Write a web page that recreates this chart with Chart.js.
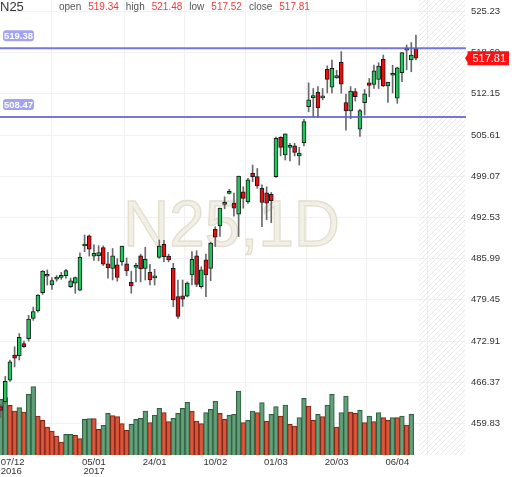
<!DOCTYPE html>
<html><head><meta charset="utf-8">
<script src="https://cdn.jsdelivr.net/npm/chart.js@4"></script>
<style>html,body{margin:0;padding:0;background:#fff}canvas{display:block}</style>
</head><body>
<canvas id="c" width="512" height="477"></canvas>
<script>
const symbol = "N25";
const interval = "1D";
const dates = ["05/12","06/12","07/12","08/12","09/12","12/12","13/12","14/12","15/12","16/12",
"19/12","20/12","21/12","22/12","23/12","28/12","29/12","30/12","03/01","04/01",
"05/01","06/01","09/01","10/01","11/01","12/01","13/01","16/01","17/01","18/01",
"19/01","20/01","23/01","24/01","25/01","26/01","27/01","30/01","31/01","01/02",
"02/02","03/02","06/02","07/02","08/02","09/02","10/02","13/02","14/02","15/02",
"16/02","17/02","20/02","21/02","22/02","23/02","24/02","27/02","28/02","01/03",
"02/03","03/03","06/03","07/03","08/03","09/03","10/03","13/03","14/03","15/03",
"16/03","17/03","20/03","21/03","22/03","23/03","24/03","27/03","28/03","29/03",
"30/03","31/03","03/04","04/04","05/04","06/04","07/04","10/04","11/04","12/04"];
const openV = [462.5,463.3,466.7,470.7,470.6,472.5,473.3,476.5,477.7,480.6,
483.2,481.8,482.75,483.0,483.3,481.55,482.1,481.0,488.0,489.6,
486.4,486.45,487.75,485.15,484.45,485.0,485.5,485.15,482.25,484.6,
486.45,484.45,483.85,482.95,486.2,488.25,486.4,484.45,479.95,480.1,
480.05,483.4,486.45,481.55,485.8,484.45,490.65,491.2,494.6,496.35,
494.8,493.05,496.6,495.05,499.55,499.0,497.15,496.45,496.2,499.0,
505.25,502.45,503.65,503.9,502.3,504.4,510.1,511.55,512.4,511.5,
516.05,513.2,514.7,517.15,510.75,509.45,512.5,506.55,510.75,513.9,
513.65,514.45,517.65,513.4,515.1,511.45,515.5,519.1,517.55,519.34];
const highV = [462.9,467.3,469.9,472.0,474.1,472.9,477.0,478.3,480.3,484.1,
484.2,483.0,483.3,483.8,484.3,482.9,483.1,486.9,489.75,489.75,
488.2,488.05,488.0,487.0,487.6,486.0,488.0,486.1,484.0,485.25,
486.7,487.8,485.1,484.3,488.95,488.9,486.7,485.25,482.6,482.6,
482.3,487.1,487.25,484.7,486.7,488.6,491.05,494.0,495.8,497.0,
496.4,499.1,497.4,498.75,500.85,500.3,497.7,497.4,496.5,505.3,
505.35,505.8,504.3,504.3,503.65,508.1,513.9,513.0,513.3,513.0,
516.6,517.5,515.9,518.85,512.1,513.3,513.0,509.7,512.85,514.6,
516.7,517.1,518.3,514.0,516.7,516.4,518.7,519.9,520.3,521.48];
const lowV = [460.8,463.0,466.5,468.8,469.9,471.9,472.9,476.2,477.5,480.3,
481.8,481.1,482.4,482.7,482.9,481.4,480.5,480.9,487.1,486.4,
485.7,485.65,484.9,482.9,482.6,482.4,484.9,483.3,480.5,482.3,
482.3,482.6,481.8,481.8,486.05,485.5,485.5,478.35,476.5,478.4,
479.9,481.8,481.55,481.3,479.95,482.5,487.9,489.5,493.9,496.25,
492.75,489.5,494.0,494.75,498.2,497.15,491.05,492.15,491.7,498.9,
502.3,501.65,501.5,502.3,500.85,503.9,509.3,508.5,508.4,511.2,
512.3,512.3,514.6,512.25,506.4,508.2,511.0,505.4,508.8,511.7,
513.0,513.0,513.3,510.8,512.3,510.65,514.1,515.95,515.65,517.52];
const closeV = [461.9,466.5,469.6,470.2,473.5,472.0,476.4,477.6,480.2,484.0,
483.3,482.5,482.8,483.35,484.1,482.45,483.0,486.2,488.05,487.5,
486.85,486.95,485.1,484.55,486.45,483.0,488.0,484.05,481.65,484.65,
484.35,485.9,482.6,483.0,488.0,486.3,485.8,479.45,476.8,479.55,
482.1,485.9,481.9,484.2,483.4,488.45,489.4,494.0,494.7,496.6,
494.0,499.1,495.55,498.5,499.0,497.55,494.9,494.8,495.2,505.1,
503.65,505.8,503.7,502.85,502.75,507.75,511.2,511.85,509.95,511.55,
514.45,516.2,515.05,513.7,509.45,512.6,511.7,509.5,512.15,513.5,
515.8,516.55,513.4,514.0,515.15,516.3,518.7,519.4,518.3,517.81];
const volume = [55.7,57.3,49.7,44,47.3,43,60.7,68.3,39,34.7,
28,24,19,13,20.7,20.7,19.7,16.3,35.7,36.3,
36.3,25.7,29.7,41.7,39.3,38.3,31.3,24.7,30.7,35.7,
36.7,44,32.3,40,46.7,42.3,33.3,36.7,41.7,46.7,
52.7,44,34,31.3,42.3,45.7,54,41.7,35.7,40,
40.7,64,32.3,34.7,44,42.3,52.3,34,40.7,48.3,
39,50,30.7,29,37.3,56.7,49,34.7,40.7,38.3,
50,60.7,28,42.3,59,43,41.7,44.7,32.3,39,
33.3,42.3,37.3,34.7,37.3,37.3,39,30,40.7,null];
const volumeUp = [1,1,0,0,1,0,1,1,0,0,
0,0,0,0,1,1,0,0,1,1,
0,0,1,1,0,0,0,0,1,1,
1,1,0,1,1,0,0,1,1,1,
1,0,0,0,1,1,1,0,0,1,
1,1,0,1,1,0,1,0,1,1,
0,1,0,0,1,1,0,0,1,0,
1,1,0,1,1,0,0,1,0,1,
0,1,0,0,1,0,1,0,1,0];
const tickDates = ["07/12","05/01","24/01","10/02","01/03","20/03","06/04"];
const tickYears = {"07/12":"2016","05/01":"2017"};
const yTickLabels = [459.83,466.37,472.91,479.45,485.99,492.53,499.07,505.61,512.15,518.69,525.23];
const levels = [519.38, 508.47];

const FONT = "'Liberation Sans', Arial, sans-serif";
const n = dates.length;
const tickIdx = tickDates.map(d => dates.indexOf(d));
const GREEN = '#1fc65c', RED = '#e80f0f';

const bodyData = dates.map((d,i) => ({x:i, y:[openV[i], closeV[i]]}));
const wickData = dates.map((d,i) => ({x:i, y:[lowV[i], highV[i]]}));
const volData = dates.map((d,i) => ({x:i, y:volume[i]}));

function hatchPattern(ctx){
  const s = 5, c = document.createElement('canvas');
  c.width = s; c.height = s;
  const g = c.getContext('2d');
  g.strokeStyle = '#e9e9e9'; g.lineWidth = 1;
  g.beginPath();
  g.moveTo(-1, s+1); g.lineTo(s+1, -1);
  g.moveTo(-1, 1); g.lineTo(1, -1);
  g.moveTo(s-1, s+1); g.lineTo(s+1, s-1);
  g.stroke();
  return ctx.createPattern(c, 'repeat');
}

const decor = {
  id: 'decor',
  beforeDatasetsDraw(chart){
    const {ctx, chartArea:a, scales} = chart;
    ctx.save();
    const hx = scales.x.getPixelForValue(n - 1 + 0.65);
    ctx.fillStyle = hatchPattern(ctx);
    ctx.fillRect(hx, a.top, a.right - hx, a.bottom - a.top);
    ctx.font = '64px ' + FONT;
    ctx.textAlign = 'center';
    ctx.textBaseline = 'alphabetic';
    const wx = (a.left + a.right)/2 - 1, wy = (a.top + a.bottom)/2 + 18.5;
    ctx.fillStyle = '#f2efe6';
    ctx.fillText(symbol + ',' + interval, wx, wy);
    ctx.strokeStyle = '#e3dece'; ctx.lineWidth = 1.3;
    ctx.strokeText(symbol + ',' + interval, wx, wy);
    ctx.restore();
  },
  afterDatasetsDraw(chart){
    const {ctx, chartArea:a, scales} = chart;
    ctx.save();
    levels.forEach(v => {
      const y = scales.y.getPixelForValue(v);
      ctx.strokeStyle = 'rgba(95,95,205,0.85)'; ctx.lineWidth = 2;
      ctx.beginPath(); ctx.moveTo(a.left, y); ctx.lineTo(a.right + 1, y); ctx.stroke();
      const bx = 3, by = y - 18, bw = 31, bh = 11;
      ctx.fillStyle = '#a3a3f3';
      ctx.beginPath();
      if (ctx.roundRect) ctx.roundRect(bx, by, bw, bh, 3); else ctx.rect(bx, by, bw, bh);
      ctx.fill();
      ctx.fillStyle = '#ffffff';
      ctx.font = 'bold 9.5px ' + FONT;
      ctx.textAlign = 'center'; ctx.textBaseline = 'middle';
      ctx.fillText(v.toFixed(2), bx + bw/2, by + bh/2 + 0.5);
    });
    ctx.restore();
  },
  afterDraw(chart){
    const {ctx, chartArea:a, scales} = chart;
    const last = n - 1;
    ctx.save();
    const py = scales.y.getPixelForValue(closeV[last]);
    const x0 = a.right + 2.5, x1 = 509;
    ctx.fillStyle = '#ff1010';
    ctx.beginPath();
    ctx.moveTo(a.right, py);
    ctx.lineTo(x0, py - 4);
    ctx.lineTo(x0, py - 7);
    ctx.lineTo(x1, py - 7);
    ctx.lineTo(x1, py + 7);
    ctx.lineTo(x0, py + 7);
    ctx.lineTo(x0, py + 4);
    ctx.closePath();
    ctx.fill();
    ctx.fillStyle = '#ffffff';
    ctx.font = '11px ' + FONT;
    ctx.textAlign = 'center'; ctx.textBaseline = 'middle';
    ctx.fillText(closeV[last].toFixed(2), (x0 + x1)/2 + 1, py + 0.5);
    ctx.textAlign = 'left'; ctx.textBaseline = 'alphabetic';
    ctx.font = '13px ' + FONT; ctx.fillStyle = '#333';
    ctx.fillText(symbol, 0, 11);
    const parts = [['open', openV[last]], ['high', highV[last]], ['low', lowV[last]], ['close', closeV[last]]];
    let x = 59;
    ctx.font = '10px ' + FONT;
    parts.forEach(([lab, val]) => {
      ctx.fillStyle = '#555';
      ctx.fillText(lab, x, 10);
      x += ctx.measureText(lab).width + 7;
      ctx.fillStyle = '#f03a3a';
      const t = val.toFixed(2);
      ctx.fillText(t, x, 9.5);
      x += ctx.measureText(t).width + 7;
    });
    ctx.restore();
  }
};

new Chart(document.getElementById('c'), {
  type: 'bar',
  data: {
    datasets: [
      { data: bodyData, yAxisID: 'y', order: 0, grouped: false, barThickness: 4, minBarLength: 2,
        backgroundColor: bodyData.map((d,i) => closeV[i] >= openV[i] ? GREEN : RED),
        borderColor: '#1a1a1a', borderWidth: 1, borderSkipped: false },
      { data: wickData, yAxisID: 'y', order: 1, grouped: false, barThickness: 1,
        backgroundColor: '#6a6a6a', borderWidth: 0 },
      { data: volData, yAxisID: 'yv', order: 2, grouped: false, barThickness: 4.7,
        backgroundColor: volumeUp.map(u => u ? 'rgba(88,152,112,0.92)' : 'rgba(216,78,52,0.95)'),
        borderColor: volumeUp.map(u => u ? '#2e5e40' : '#7c2818'), borderWidth: 1, borderSkipped: 'start' }
    ]
  },
  options: {
    responsive: false, animation: false, devicePixelRatio: 1,
    layout: { padding: 0 },
    plugins: { legend: { display: false }, tooltip: { enabled: false } },
    scales: {
      x: {
        type: 'linear', min: -0.13, max: 99.51, offset: false,
        grid: { color: '#f1f1f1', drawTicks: false }, border: { display: false },
        ticks: { autoSkip: false, maxRotation: 0, padding: 3, color: '#333',
          font: { family: FONT, size: 9.5, lineHeight: 0.95 },
          callback: v => {
            const d = dates[v];
            if (v === tickIdx[0]) return ['  ' + d, ' ' + tickYears[d]];
            return tickYears[d] ? [d, tickYears[d]] : d;
          } },
        afterBuildTicks: s => { s.ticks = tickIdx.map(v => ({ value: v })); },
        afterFit: s => { s.height = 22; s.paddingLeft = 0; s.paddingRight = 0; }
      },
      y: {
        position: 'right', min: 454.82, max: 527.05,
        grid: { color: '#f1f1f1', drawTicks: false }, border: { display: false },
        ticks: { padding: 6, color: '#333', font: { family: FONT, size: 9.5 },
          callback: v => Number(v).toFixed(2) },
        afterBuildTicks: s => { s.ticks = yTickLabels.map(v => ({ value: v })); },
        afterFit: s => { s.width = 47; s.paddingTop = 0; s.paddingBottom = 0; }
      },
      yv: { display: false, min: 0, max: 455, afterFit: s => { s.paddingTop = 0; s.paddingBottom = 0; } }
    }
  },
  plugins: [decor]
});
</script>
</body></html>
